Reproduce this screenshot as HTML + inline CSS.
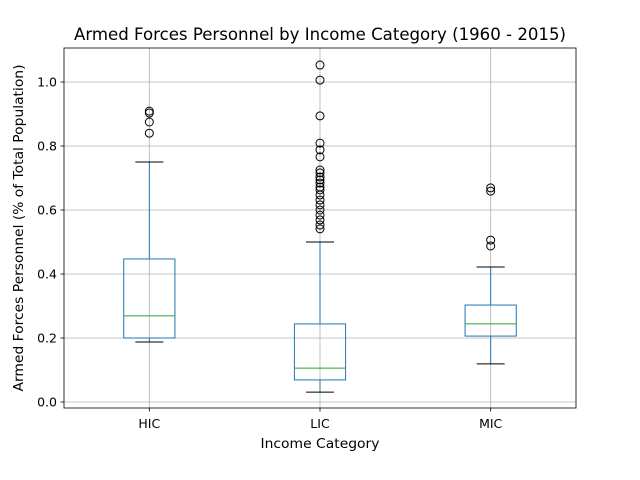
<!DOCTYPE html>
<html><head><meta charset="utf-8"><style>body{margin:0;background:#fff}svg{display:block}text{font-family:"DejaVu Sans","Liberation Sans",sans-serif;fill:#000}</style></head>
<body>
<svg id="c" width="640" height="480"></svg>
<script>
const categories=["HIC","LIC","MIC"];
const q1=[0.200,0.069,0.206];
const medians=[0.269,0.106,0.244];
const q3=[0.447,0.244,0.303];
const whiskLo=[0.1875,0.031,0.119];
const whiskHi=[0.75,0.5,0.422];
const outliers=[[0.909,0.903,0.875,0.84],
[1.053,1.006,0.894,0.809,0.788,0.766,0.725,0.716,0.703,0.694,0.684,0.672,0.663,0.647,0.631,0.616,0.600,0.584,0.569,0.553,0.541],
[0.669,0.659,0.506,0.4875]];
const yTicks=[0.0,0.2,0.4,0.6,0.8,1.0];
const NS="http://www.w3.org/2000/svg",svg=document.getElementById("c");
const L=64,R=576,T=48,B=408;
const y=v=>402-320*v;
const x=i=>L+(R-L)*(i+0.5)/categories.length;
function el(t,a,txt){const e=document.createElementNS(NS,t);for(const k in a)e.setAttribute(k,a[k]);if(txt!=null)e.textContent=txt;svg.appendChild(e);return e;}
yTicks.forEach(v=>{const g=el("line",{x1:L,x2:R,y1:y(v),y2:y(v),stroke:"#b0b0b0","stroke-width":0.8});


el("line",{x1:L-3.5,x2:L,y1:y(v),y2:y(v),stroke:"#000","stroke-width":0.8});
const t=el("text",{x:L-7,y:y(v)+4.5,"text-anchor":"end","font-size":12.5},v.toFixed(1));

});
categories.forEach((c,i)=>{const g=el("line",{x1:x(i),x2:x(i),y1:T,y2:B,stroke:"#b0b0b0","stroke-width":0.8});


el("line",{x1:x(i),x2:x(i),y1:B,y2:B+3.5,stroke:"#000","stroke-width":0.8});
const t=el("text",{x:x(i),y:B+20,"text-anchor":"middle","font-size":12.5},c);

});
categories.forEach((c,i)=>{const cx=x(i),hw=25.6,cw=14;
el("line",{x1:cx,x2:cx,y1:y(q3[i]),y2:y(whiskHi[i]),stroke:"#1f77b4","stroke-width":1});
el("line",{x1:cx,x2:cx,y1:y(q1[i]),y2:y(whiskLo[i]),stroke:"#1f77b4","stroke-width":1});
el("line",{x1:cx-cw,x2:cx+cw,y1:y(whiskHi[i]),y2:y(whiskHi[i]),stroke:"#000","stroke-width":1});
el("line",{x1:cx-cw,x2:cx+cw,y1:y(whiskLo[i]),y2:y(whiskLo[i]),stroke:"#000","stroke-width":1});
const b=el("rect",{x:cx-hw,y:y(q3[i]),width:2*hw,height:y(q1[i])-y(q3[i]),fill:"none",stroke:"#1f77b4","stroke-width":1});


const m=el("line",{x1:cx-hw,x2:cx+hw,y1:y(medians[i]),y2:y(medians[i]),stroke:"#2ca02c","stroke-width":1});


outliers[i].forEach(v=>{const o=el("circle",{cx:cx,cy:y(v),r:4,fill:"none",stroke:"#000","stroke-width":1});

});});
const f=el("rect",{x:L,y:T,width:R-L,height:B-T,fill:"none",stroke:"#000","stroke-width":0.8});


const tt=el("text",{x:320,y:40,"text-anchor":"middle","font-size":16.5,textLength:492,lengthAdjust:"spacingAndGlyphs"},"Armed Forces Personnel by Income Category (1960 - 2015)");


const xt=el("text",{x:320,y:448,"text-anchor":"middle","font-size":13,textLength:119,lengthAdjust:"spacingAndGlyphs"},"Income Category");


const yt=el("text",{x:23,y:228,"text-anchor":"middle","font-size":13,textLength:327,lengthAdjust:"spacingAndGlyphs",transform:"rotate(-90 23 228)"},"Armed Forces Personnel (% of Total Population)");


</script>
</body></html>
